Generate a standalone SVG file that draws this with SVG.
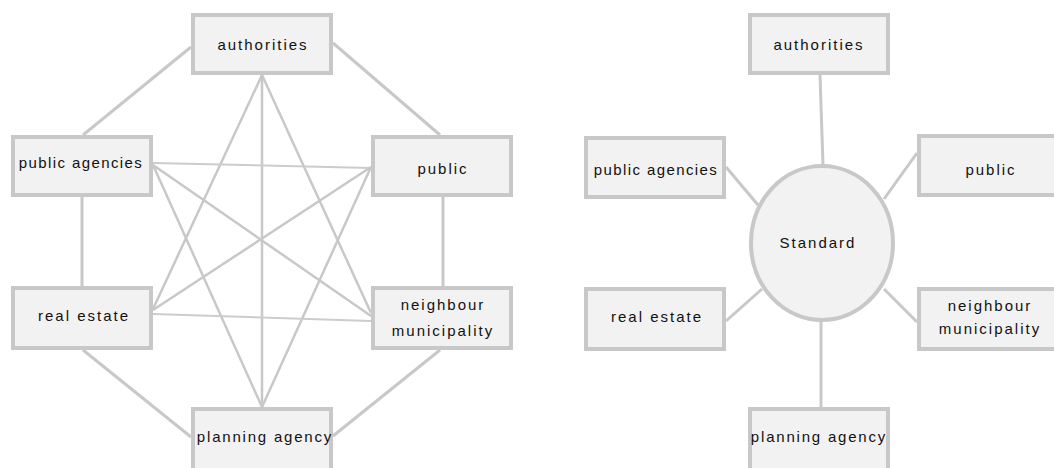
<svg xmlns="http://www.w3.org/2000/svg" width="1054" height="468" viewBox="0 0 1054 468">
<style>
.box{fill:#f2f2f2;stroke:#c8c8c8;stroke-width:4}
.lbl{font-family:"Liberation Sans",Arial,sans-serif;font-size:15px;letter-spacing:2px;fill:#111111;text-anchor:middle}
.tight{letter-spacing:1.4px}
.mid{letter-spacing:1.8px}
.e{stroke:#c8c8c8;stroke-width:3;fill:none}
.d{stroke:#c8c8c8;stroke-width:2.5;fill:none}
.h{stroke:#cccccc;stroke-width:2;fill:none}
</style>
<rect width="1054" height="468" fill="#ffffff"/>
<g id="connectors">
<line class="e" x1="191" y1="47" x2="83" y2="135"/>
<line class="e" x1="333" y1="43" x2="440" y2="135"/>
<line class="e" x1="82" y1="197" x2="82" y2="286"/>
<line class="e" x1="443" y1="197" x2="443" y2="286"/>
<line class="e" x1="83" y1="350" x2="191" y2="437"/>
<line class="e" x1="440" y1="350" x2="333" y2="436"/>
<line class="d" x1="262" y1="75" x2="153" y2="309"/>
<line class="d" x1="262" y1="75" x2="262" y2="407"/>
<line class="d" x1="262" y1="75" x2="371" y2="313"/>
<line class="h" x1="153" y1="163" x2="371" y2="168"/>
<line class="d" x1="153" y1="165" x2="262" y2="407"/>
<line class="d" x1="153" y1="165" x2="371" y2="316"/>
<line class="d" x1="371" y1="167" x2="153" y2="310"/>
<line class="d" x1="371" y1="167" x2="262" y2="407"/>
<line class="h" x1="153" y1="314" x2="371" y2="321"/>
<line class="e" x1="820" y1="75" x2="823" y2="165"/>
<line class="e" x1="726" y1="167" x2="758" y2="205"/>
<line class="e" x1="917" y1="153" x2="884" y2="199"/>
<line class="e" x1="726" y1="321" x2="762" y2="289"/>
<line class="e" x1="917" y1="322" x2="884" y2="289"/>
<line class="e" x1="821" y1="321" x2="821" y2="407"/>
</g>
<g id="l-authorities"><rect class="box" x="193" y="15" width="138" height="58"/><text class="lbl" x="263" y="50">authorities</text></g>
<g id="l-public-agencies"><rect class="box" x="13" y="137" width="138" height="58"/><text class="lbl tight" x="81" y="168">public agencies</text></g>
<g id="l-public"><rect class="box" x="373" y="137" width="138" height="58"/><text class="lbl" x="443" y="174">public</text></g>
<g id="l-real-estate"><rect class="box" x="13" y="288" width="138" height="60"/><text class="lbl" x="84" y="321">real estate</text></g>
<g id="l-neighbour"><rect class="box" x="373" y="288" width="138" height="60"/><text class="lbl" x="443" y="310">neighbour</text><text class="lbl" x="443" y="336">municipality</text></g>
<g id="l-planning"><rect class="box" x="193" y="409" width="138" height="70"/><text class="lbl mid" x="265" y="442">planning agency</text></g>
<g id="r-standard"><ellipse cx="822" cy="243" rx="71" ry="77" style="fill:#f2f2f2;stroke:#c8c8c8;stroke-width:4"/><text class="lbl" x="818" y="248">Standard</text></g>
<g id="r-authorities"><rect class="box" x="750" y="15" width="138" height="58"/><text class="lbl" x="819" y="50">authorities</text></g>
<g id="r-public-agencies"><rect class="box" x="586" y="138" width="138" height="59"/><text class="lbl tight" x="656" y="175">public agencies</text></g>
<g id="r-public"><rect class="box" x="919" y="136" width="138" height="59"/><text class="lbl" x="991" y="175">public</text></g>
<g id="r-real-estate"><rect class="box" x="586" y="289" width="138" height="60"/><text class="lbl" x="657" y="322">real estate</text></g>
<g id="r-neighbour"><rect class="box" x="919" y="289" width="138" height="60"/><text class="lbl" x="990" y="311">neighbour</text><text class="lbl" x="990" y="334">municipality</text></g>
<g id="r-planning"><rect class="box" x="750" y="409" width="138" height="70"/><text class="lbl mid" x="819" y="442">planning agency</text></g>
</svg>
